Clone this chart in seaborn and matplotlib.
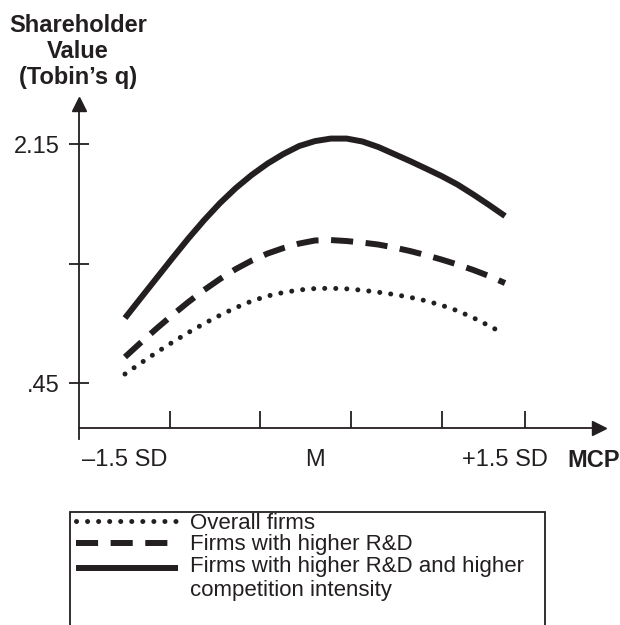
import matplotlib
matplotlib.use("Agg")
import numpy as np
import matplotlib.pyplot as plt
import seaborn as sns
import pandas as pd
from matplotlib.patches import Rectangle
from matplotlib.legend_handler import HandlerLine2D

# ---- data ----
x_sd = [-1.5, -1.375, -1.25, -1.125, -1.0, -0.875, -0.75, -0.625, -0.5, -0.375, -0.25, -0.125,
        0.0, 0.125, 0.25, 0.375, 0.5, 0.625, 0.75, 0.875, 1.0, 1.125, 1.25, 1.375, 1.5]
x_sd_overall = x_sd[:-1] + [1.45]
overall = [0.514, 0.592, 0.668, 0.740, 0.809, 0.873, 0.932, 0.986, 1.033, 1.069, 1.094, 1.112,
           1.122, 1.124, 1.120, 1.110, 1.096, 1.080, 1.060, 1.035, 1.003, 0.964, 0.914, 0.857, 0.820]
higher_rd = [0.635, 0.738, 0.838, 0.934, 1.026, 1.112, 1.190, 1.261, 1.321, 1.371, 1.410, 1.442,
             1.464, 1.467, 1.460, 1.449, 1.435, 1.414, 1.389, 1.360, 1.328, 1.293, 1.254, 1.211, 1.161]
higher_rd_comp = [0.912, 1.055, 1.197, 1.339, 1.478, 1.609, 1.730, 1.837, 1.930, 2.011, 2.079, 2.136,
                  2.171, 2.189, 2.189, 2.168, 2.129, 2.079, 2.029, 1.976, 1.922, 1.862, 1.791, 1.716, 1.638]

series_labels = ["Overall firms", "Firms with higher R&D",
                 "Firms with higher R&D and higher\ncompetition intensity"]
y_ticks = [0.45, 1.3, 2.15]
y_tick_labels = [".45", "", "2.15"]
x_label_pos = [-1.5, 0.0, 1.5]
x_labels = ["\u20131.5 SD", "M", "+1.5 SD"]
x_tick_marks = [-1.145, -0.434, 0.284, 1.003, 1.658]

INK = "#231f20"

sns.set_theme(style="white")
plt.rcParams["font.family"] = ["Liberation Sans", "DejaVu Sans"]

fig = plt.figure(figsize=(6.2, 6.25), dpi=100)
ax = fig.add_axes([79 / 620, (625 - 439) / 625, (599 - 79) / 620, (439 - 104) / 625])

df_o = pd.DataFrame({"x": x_sd_overall, "y": overall})
df_r = pd.DataFrame({"x": x_sd, "y": higher_rd})
df_c = pd.DataFrame({"x": x_sd, "y": higher_rd_comp})

sns.lineplot(data=df_o, x="x", y="y", ax=ax, color=INK, lw=3.6,
             linestyle=(0, (0.01, 2.2)), dash_capstyle="round", label=series_labels[0])
sns.lineplot(data=df_r, x="x", y="y", ax=ax, color=INK, lw=4.3,
             linestyle=(0, (3.7, 2.1)), dash_capstyle="butt", label=series_labels[1])
sns.lineplot(data=df_c, x="x", y="y", ax=ax, color=INK, lw=4.3,
             linestyle="-", solid_capstyle="butt", label=series_labels[2])

ylo, yhi = 0.0517, 2.435
xlo, xhi = -1.863, 2.242
x_axis_y = 0.130
ax.set_xlim(xlo, xhi)
ax.set_ylim(ylo, yhi)

for s in ["top", "right"]:
    ax.spines[s].set_visible(False)
for s in ["left", "bottom"]:
    ax.spines[s].set_color(INK)
    ax.spines[s].set_linewidth(1.3)
ax.spines["bottom"].set_position(("data", x_axis_y))

# arrow heads
ax.plot([xhi], [x_axis_y], marker=">", ms=10, color=INK, clip_on=False)
ax.plot([xlo], [yhi], marker="^", ms=10, color=INK, clip_on=False)

ax.set_yticks(y_ticks)
ax.set_yticklabels(y_tick_labels)
ax.tick_params(axis="y", direction="inout", length=14.4, width=1.3, color=INK,
               labelsize=17, pad=7, left=True, labelcolor=INK)

ax.set_xticks(x_tick_marks)
ax.set_xticklabels([""] * len(x_tick_marks))
ax.tick_params(axis="x", which="major", direction="in", length=12, width=1.3,
               color=INK, bottom=True)
ax.set_xticks(x_label_pos, minor=True)
ax.set_xticklabels(x_labels, minor=True)
ax.tick_params(axis="x", which="minor", length=0, labelsize=17, pad=15,
               labelcolor=INK)
ax.set_xlabel("")
ax.set_ylabel("")
ax.grid(False)

fig.text(78 / 620, 1 - 14 / 625, "Shareholder\nValue\n(Tobin\u2019s q)", ha="center", va="top",
         fontsize=17, fontweight="bold", linespacing=1.17, color=INK)
fig.text(567 / 620, 1 - 467 / 625, "MCP", ha="left", va="baseline",
         fontsize=17, fontweight="bold", color=INK)


class FirstLineHandler(HandlerLine2D):
    def __init__(self, shift, **kw):
        super().__init__(**kw)
        self.shift = shift

    def create_artists(self, legend, orig_handle, xdescent, ydescent, width, height,
                       fontsize, trans):
        arts = super().create_artists(legend, orig_handle, xdescent, ydescent, width,
                                      height, fontsize, trans)
        for a in arts:
            a.set_ydata(np.asarray(a.get_ydata(), dtype=float) + self.shift)
        return arts


handles, labels = ax.get_legend_handles_labels()
ax.get_legend().remove()
leg = fig.legend(handles, labels, loc="upper left", bbox_to_anchor=(76 / 620, 1 - 513 / 625),
                 frameon=False, fontsize=16, handlelength=4.6, handletextpad=0.55,
                 labelspacing=0.02, borderpad=0, borderaxespad=0,
                 handler_map={handles[2]: FirstLineHandler(8.0)})
for t in leg.get_texts():
    t.set_color(INK)

fig.add_artist(Rectangle((70 / 620, -0.1), (545 - 70) / 620, (1 - 512 / 625) + 0.1,
                         transform=fig.transFigure, fill=False, edgecolor=INK,
                         lw=1.3, clip_on=False))

fig.savefig("out.png", dpi=100)
